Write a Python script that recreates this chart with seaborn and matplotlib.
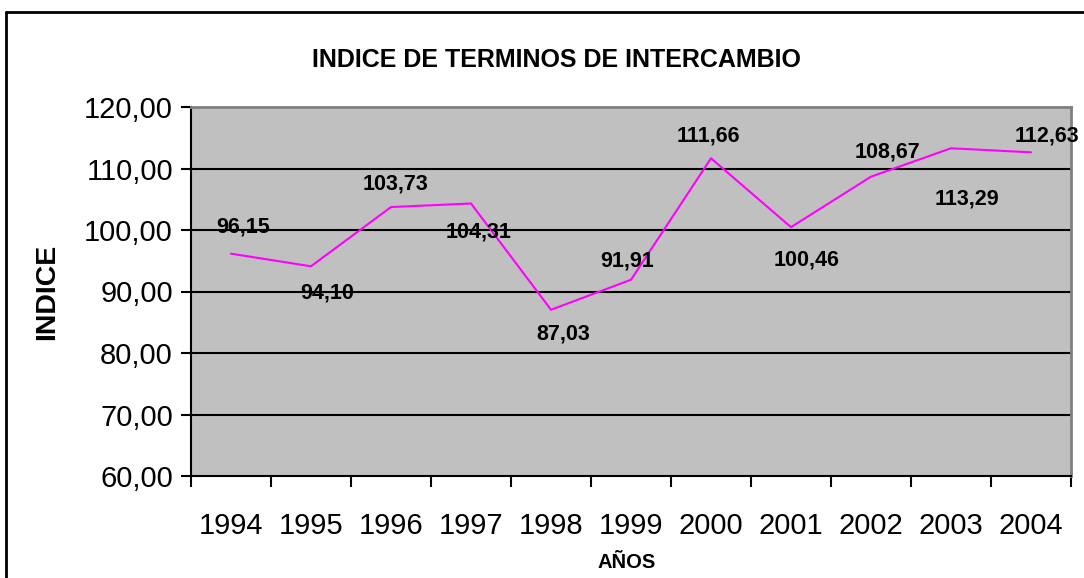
import numpy as np
import pandas as pd
import seaborn as sns
import matplotlib.pyplot as plt
from matplotlib.ticker import FuncFormatter, FixedLocator
from matplotlib.lines import Line2D

# data
years = ["1994", "1995", "1996", "1997", "1998", "1999", "2000", "2001", "2002", "2003", "2004"]
indice = [96.15, 94.10, 103.73, 104.31, 87.03, 91.91, 111.66, 100.46, 108.67, 113.29, 112.63]

# where each label sits relative to its point (category units, value units)
lab_dx = [0.15, 0.20, 0.06, 0.10, 0.15, -0.05, -0.03, 0.20, 0.20, 0.20, 0.20]
lab_dy = [4.4, -4.4, 3.8, -4.7, -4.0, 3.1, 3.6, -5.3, 4.0, -8.3, 2.6]

sns.set_style("white")
plt.rcParams['font.family'] = ['Liberation Sans', 'DejaVu Sans']
plt.rcParams['text.color'] = 'black'
plt.rcParams['axes.labelcolor'] = 'black'
plt.rcParams['xtick.color'] = 'black'
plt.rcParams['ytick.color'] = 'black'

df = pd.DataFrame({"pos": np.arange(len(years)), "indice": indice})

fig = plt.figure(figsize=(10.84, 5.78), dpi=100)
ax = fig.add_axes([191/1084, 1 - 476/578, 880/1084, 369/578])
ax.set_facecolor("#C0C0C0")

# horizontal gridlines
for v in [70, 80, 90, 100, 110]:
    ax.axhline(v, color="black", lw=1.5, zorder=1)

sns.lineplot(data=df, x="pos", y="indice", color="#FF00FF", lw=1.5, ax=ax, zorder=3)

for i, v in enumerate(indice):
    ax.text(i + lab_dx[i], v + lab_dy[i], f"{v:.2f}".replace(".", ","),
            ha="center", va="center", fontsize=15.5, fontweight="bold", zorder=4)

ax.set_xlim(-0.5, len(years) - 0.5)
ax.set_ylim(60, 120)
ax.set_yticks(np.arange(60, 121, 10))
ax.yaxis.set_major_formatter(FuncFormatter(lambda v, p: f"{v:.2f}".replace(".", ",")))
ax.set_xticks(np.arange(len(years)))
ax.set_xticklabels(years)
ax.xaxis.set_minor_locator(FixedLocator(np.arange(-0.5, len(years), 1.0)))
ax.tick_params(axis="x", which="major", length=0, pad=26, labelsize=21)
ax.tick_params(axis="x", which="minor", length=8, width=1.5, color="black", direction="out")
ax.tick_params(axis="y", which="major", length=7, width=1.5, color="black", direction="out",
               labelsize=21, pad=6)
ax.tick_params(bottom=True, left=True, which="both")

for s in ["left", "bottom"]:
    ax.spines[s].set_color("black")
    ax.spines[s].set_linewidth(1.5)
for s in ["top", "right"]:
    ax.spines[s].set_color("#808080")
    ax.spines[s].set_linewidth(2)

ax.set_xlabel("")
ax.set_ylabel("INDICE", fontsize=20.5, fontweight="bold", labelpad=17)
fig.text(627/1084, 1 - 563/578, "AÑOS", ha="center", va="center",
         fontsize=14.5, fontweight="bold")

fig.text(556/1084, 1 - 60/578, "INDICE DE TERMINOS DE INTERCAMBIO",
         ha="center", va="center", fontsize=18, fontweight="bold")

# outer chart frame (left and top edges visible)
fig.add_artist(Line2D([6/1084, 6/1084], [0, 1 - 12/578], transform=fig.transFigure, color="black", lw=2))
fig.add_artist(Line2D([6/1084, 1], [1 - 12/578, 1 - 12/578], transform=fig.transFigure, color="black", lw=2))

fig.savefig("out.png", dpi=100)
